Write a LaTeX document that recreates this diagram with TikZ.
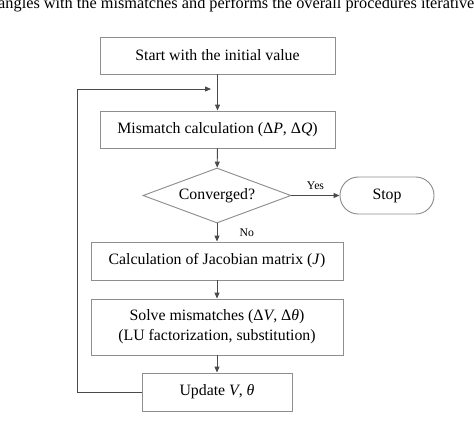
\documentclass[tikz,border=0pt]{standalone}
\usepackage{fontspec}
\setmainfont{Liberation Serif}
\usetikzlibrary{arrows.meta,shapes.geometric}
\definecolor{boxgray}{HTML}{8E8E8E}
\definecolor{linegray}{HTML}{4A4A4A}

\begin{document}
\begin{tikzpicture}[x=0.03cm,y=-0.03cm]
\clip (0,0) rectangle (474,437);
\node[anchor=base west,inner sep=0pt,font=\fontsize{13.9}{16}\selectfont] (cap) at (-2,8)
    {angles with the mismatches and performs the overall procedures iterative};

\begin{scope}[every node/.style={rectangle,draw=boxgray,line width=0.8pt,inner sep=0pt,
              align=center,font=\fontsize{13.5}{17}\selectfont}]
    \node[minimum width=7.05cm,minimum height=1.11cm] (S) at (217.5,55.5) {Start with the initial value};
    \node[minimum width=7.05cm,minimum height=1.11cm] (M) at (217.5,129.5) {Mismatch calculation (Δ\textit{P}, Δ\textit{Q})};
    \node[diamond,aspect=2.7,minimum width=4.44cm,minimum height=1.65cm] (C) at (217,195.5) {Converged?};
    \node[rounded corners=0.55cm,minimum width=2.82cm,minimum height=1.11cm] (E) at (387,195.5) {Stop};
    \node[minimum width=7.56cm,minimum height=1.14cm] (J) at (217,261) {Calculation of Jacobian matrix (\textit{J})};
    \node[minimum width=7.56cm,minimum height=1.68cm] (L) at (217,327) {Solve mismatches (Δ\textit{V}, Δ\textit{θ})\\(LU factorization, substitution)};
    \node[minimum width=4.5cm,minimum height=1.14cm] (U) at (217,392) {Update \textit{V}, \textit{θ}};
\end{scope}

\coordinate (K) at (77,89);
\coordinate (R) at (211,89);

\begin{scope}[>={Triangle[length=1.8mm,width=1.5mm]},
              every node/.style={font=\fontsize{10}{12}\selectfont},
              every edge/.style={draw=linegray,line width=0.8pt}]
    \path [->] (S) edge (M)
               (M) edge (C)
               (C) edge node[above=1pt] {Yes} (E)
               (C) edge node[right=0.55cm] {No} (J)
               (J) edge (L)
               (L) edge (U);
    \draw [->,draw=linegray,line width=0.8pt] (U.west) -| (K) -- (R);
\end{scope}
\end{tikzpicture}
\end{document}
